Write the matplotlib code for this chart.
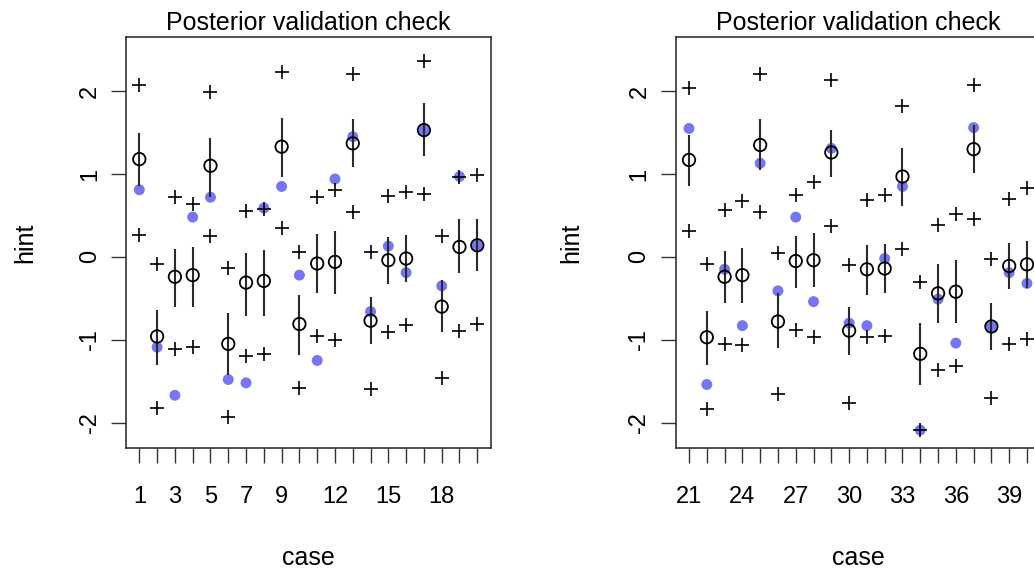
import numpy as np
import matplotlib
matplotlib.use("Agg")
import matplotlib.pyplot as plt

plt.rcParams['font.family'] = ['Liberation Sans', 'DejaVu Sans']

# --- data ---
cases_a = list(range(1, 21))
mean_a = [1.18, -0.96, -0.24, -0.22, 1.10, -1.05, -0.31, -0.29, 1.33, -0.81,
          -0.08, -0.06, 1.37, -0.77, -0.04, -0.02, 1.53, -0.60, 0.12, 0.14]
lo_a = [0.85, -1.31, -0.60, -0.60, 0.72, -1.43, -0.71, -0.71, 0.97, -1.19,
        -0.44, -0.45, 1.09, -1.05, -0.33, -0.30, 1.22, -0.91, -0.20, -0.17]
hi_a = [1.49, -0.64, 0.10, 0.12, 1.44, -0.68, 0.05, 0.08, 1.68, -0.46,
        0.28, 0.31, 1.66, -0.49, 0.24, 0.27, 1.86, -0.28, 0.46, 0.46]
obs_a = [0.81, -1.09, -1.67, 0.48, 0.72, -1.48, -1.52, 0.59, 0.85, -0.22,
         -1.25, 0.94, 1.45, -0.66, 0.13, -0.19, 1.53, -0.35, 0.97, 0.14]
pi_hi_a = [2.07, -0.08, 0.72, 0.64, 1.99, -0.14, 0.55, 0.58, 2.23, 0.06,
           0.72, 0.81, 2.21, 0.06, 0.74, 0.78, 2.36, 0.25, 0.97, 0.99]
pi_lo_a = [0.27, -1.82, -1.11, -1.09, 0.25, -1.93, -1.20, -1.17, 0.35, -1.58,
           -0.96, -1.00, 0.54, -1.60, -0.91, -0.82, 0.76, -1.46, -0.89, -0.81]
labels_a = [1, 3, 5, 7, 9, 12, 15, 18]

cases_b = list(range(21, 41))
mean_b = [1.17, -0.97, -0.24, -0.22, 1.35, -0.78, -0.05, -0.04, 1.26, -0.89,
          -0.15, -0.14, 0.97, -1.17, -0.44, -0.42, 1.30, -0.84, -0.11, -0.09]
lo_b = [0.85, -1.30, -0.56, -0.56, 1.05, -1.10, -0.37, -0.36, 0.96, -1.19,
        -0.46, -0.44, 0.61, -1.55, -0.80, -0.80, 1.01, -1.12, -0.39, -0.38]
hi_b = [1.47, -0.65, 0.07, 0.11, 1.66, -0.43, 0.25, 0.29, 1.53, -0.60,
        0.14, 0.15, 1.31, -0.80, -0.08, -0.04, 1.59, -0.56, 0.17, 0.19]
obs_b = [1.55, -1.54, -0.15, -0.83, 1.13, -0.41, 0.48, -0.54, 1.31, -0.80,
         -0.83, -0.02, 0.85, -2.09, -0.51, -1.04, 1.56, -0.84, -0.19, -0.32]
pi_hi_b = [2.04, -0.09, 0.56, 0.67, 2.21, 0.05, 0.75, 0.90, 2.13, -0.10,
           0.69, 0.75, 1.82, -0.30, 0.39, 0.52, 2.07, -0.02, 0.70, 0.83]
pi_lo_b = [0.31, -1.84, -1.05, -1.06, 0.54, -1.66, -0.88, -0.97, 0.37, -1.76,
           -0.97, -0.95, 0.09, -2.09, -1.36, -1.32, 0.46, -1.70, -1.05, -0.99]
labels_b = [21, 24, 27, 30, 33, 36, 39]

blue = '#7676f4'

fig = plt.figure(figsize=(10.34, 5.69), dpi=100)
W, H = 1034, 569
ax1 = fig.add_axes([125.8 / W, 120.7 / H, 365 / W, 411 / H])
# right panel runs past the image edge, as in the reference
ax2 = fig.add_axes([675.5 / W, 120.7 / H, 365 / W, 411 / H])


def panel(ax, cases, mean, lo, hi, obs, pi_lo, pi_hi, labels, ylab_x):
    x = np.array(cases)
    ax.scatter(x, obs, s=62, color=blue, edgecolors='none', zorder=2)
    ax.vlines(x, lo, hi, color='#2a2a2a', lw=1.5, zorder=3)
    ax.scatter(x, mean, s=80, facecolors='none', edgecolors='black',
               linewidths=1.3, zorder=4)
    ax.scatter(x, pi_lo, marker='+', s=90, color='black', linewidths=1.2, zorder=5)
    ax.scatter(x, pi_hi, marker='+', s=90, color='black', linewidths=1.2, zorder=5)

    span = x.max() - x.min()
    ax.set_xlim(x.min() - 0.04 * span, x.max() + 0.04 * span)
    ax.set_ylim(-2.31, 2.65)
    ax.set_xticks(x)
    ax.set_xticklabels([str(c) if c in labels else '' for c in cases])
    ax.set_yticks([-2, -1, 0, 1, 2])
    ax.set_yticklabels(['-2', '-1', '0', '1', '2'], rotation=90, va='center')
    ax.tick_params(axis='x', length=11, width=1, pad=16, labelsize=17, color='#333333')
    ax.tick_params(axis='y', length=11, width=1, pad=7, labelsize=17, color='#333333')
    for s in ax.spines.values():
        s.set_color('#333333')
        s.set_linewidth(1.2)
    ax.set_title('Posterior validation check', fontsize=18, pad=5.5)
    ax.set_xlabel('case', fontsize=18)
    ax.set_ylabel('hint', fontsize=18)
    ax.xaxis.set_label_coords(0.5, -0.238)
    ax.yaxis.set_label_coords(ylab_x, 0.5)


panel(ax1, cases_a, mean_a, lo_a, hi_a, obs_a, pi_lo_a, pi_hi_a, labels_a, -0.243)
panel(ax2, cases_b, mean_b, lo_b, hi_b, obs_b, pi_lo_b, pi_hi_b, labels_b, -0.253)

fig.savefig('out.png', dpi=100)
